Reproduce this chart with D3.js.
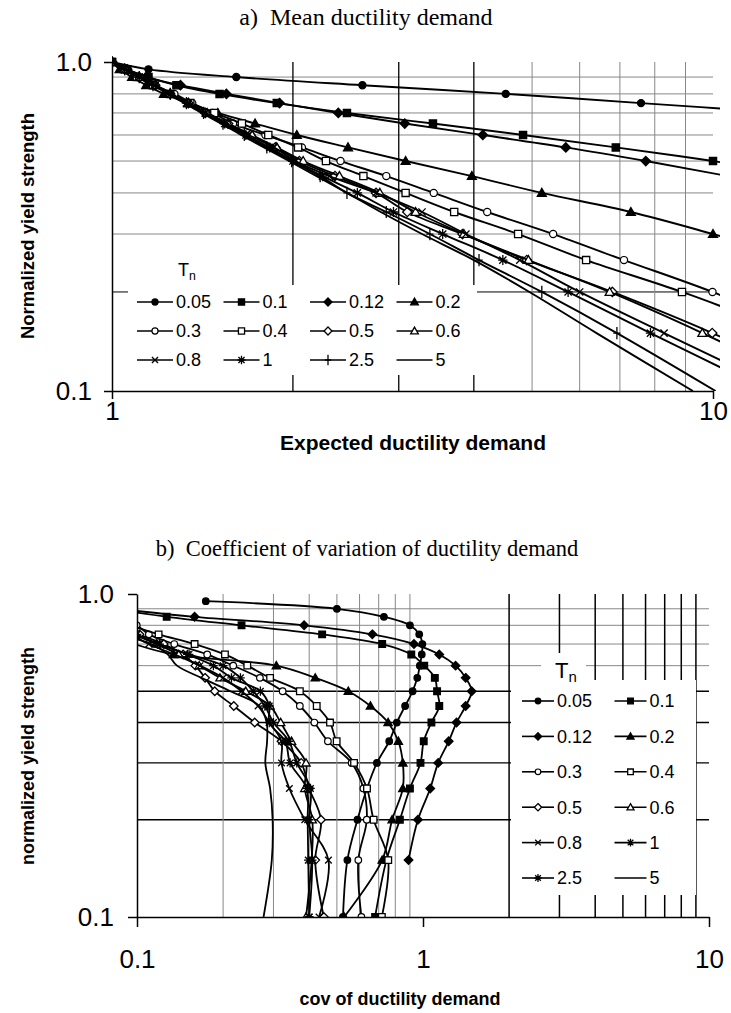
<!DOCTYPE html>
<html>
<head>
<meta charset="utf-8">
<style>
body { margin: 0; background: #fff; }
svg { display: block; font-family: "Liberation Sans", Arial, sans-serif; }
text { white-space: pre; }
</style>
</head>
<body>
<script src="https://cdn.jsdelivr.net/npm/d3@7"></script>
<script>
// strength levels (normalized yield strength) shared by every series
var strength = [1.0, 0.95, 0.9, 0.85, 0.8, 0.75, 0.7, 0.65, 0.6, 0.55, 0.5, 0.45, 0.4, 0.35, 0.3, 0.25, 0.2, 0.15, 0.1];
var periods = ["0.05", "0.1", "0.12", "0.2", "0.3", "0.4", "0.5", "0.6", "0.8", "1", "2.5", "5"];

// a) mean ductility demand, one array per period (same order as strength)
var mean005 = [1, 1.15, 1.61, 2.61, 4.52, 7.59, 13.2];
var mean01  = [1, 1.06, 1.15, 1.28, 1.51, 1.88, 2.46, 3.42, 4.83, 6.89, 10.0, 14.5];
var mean012 = [1, 1.06, 1.14, 1.30, 1.55, 1.90, 2.38, 3.07, 4.14, 5.69, 7.73, 10.6, 14.8];
var mean02  = [1, 1.03, 1.08, 1.14, 1.22, 1.34, 1.50, 1.73, 2.03, 2.47, 3.08, 3.97, 5.19, 7.30, 10.0, 14.2];
var mean03  = [1, 1.05, 1.10, 1.18, 1.27, 1.36, 1.47, 1.59, 1.80, 2.07, 2.40, 2.86, 3.43, 4.21, 5.42, 7.11, 9.98, 14.6];
var mean04  = [1, 1.05, 1.10, 1.17, 1.25, 1.35, 1.48, 1.645, 1.82, 2.04, 2.27, 2.62, 3.08, 3.71, 4.74, 6.15, 8.88, 13.5];
var mean05  = [1, 1.05, 1.11, 1.18, 1.25, 1.34, 1.43, 1.56, 1.70, 1.87, 2.05, 2.35, 2.75, 3.10, 3.83, 4.90, 6.80, 9.97, 16.0];
var mean06  = [1, 1.05, 1.11, 1.18, 1.25, 1.34, 1.44, 1.56, 1.71, 1.88, 2.08, 2.39, 2.79, 3.20, 3.85, 4.93, 6.73, 9.60, 15.2];
var mean08  = [1, 1.05, 1.11, 1.18, 1.25, 1.34, 1.43, 1.55, 1.69, 1.86, 2.02, 2.30, 2.75, 3.28, 3.88, 4.77, 6.00, 8.29, 13.2];
var mean1   = [1, 1.05, 1.11, 1.18, 1.25, 1.33, 1.43, 1.54, 1.67, 1.83, 2.00, 2.24, 2.56, 2.94, 3.55, 4.47, 5.74, 7.87, 12.4];
var mean25  = [1, 1.05, 1.11, 1.17, 1.25, 1.33, 1.42, 1.53, 1.66, 1.81, 1.99, 2.22, 2.46, 2.86, 3.38, 4.08, 5.19, 6.92, 10.1];
var mean5   = [1, 1.05, 1.11, 1.17, 1.24, 1.32, 1.41, 1.52, 1.64, 1.79, 1.97, 2.19, 2.46, 2.80, 3.28, 4.00, 4.95, 6.40, 9.26];

// b) coefficient of variation of ductility demand
var cov005 = [null, 0.174, 0.50, 0.73, 0.90, 0.97, 0.995, 0.99, 0.975, 0.955, 0.92, 0.866, 0.81, 0.762, 0.69, 0.637, 0.59, 0.544, 0.525];
var cov01  = [null, 0.05, 0.08, 0.127, 0.232, 0.444, 0.72, 0.91, 1.01, 1.10, 1.12, 1.14, 1.07, 1.006, 0.98, 0.90, 0.83, 0.745, 0.68];
var cov012 = [null, 0.05, 0.085, 0.159, 0.384, 0.665, 0.93, 1.14, 1.30, 1.41, 1.48, 1.41, 1.31, 1.23, 1.13, 1.06, 0.96, 0.89, null];
var cov02  = [null, null, null, null, 0.065, 0.08, 0.098, 0.134, 0.307, 0.42, 0.548, 0.655, 0.755, 0.82, 0.85, 0.85, 0.78, 0.72, 0.53];
var cov03  = [null, null, null, 0.085, 0.0998, 0.11, 0.135, 0.176, 0.217, 0.269, 0.323, 0.371, 0.417, 0.465, 0.563, 0.619, 0.636, 0.594, 0.609];
var cov04  = [null, null, null, 0.08, 0.095, 0.119, 0.159, 0.203, 0.243, 0.292, 0.371, 0.425, 0.473, 0.499, 0.574, 0.637, 0.672, 0.756, 0.718];
var cov05  = [null, null, null, 0.075, 0.092, 0.102, 0.124, 0.145, 0.160, 0.173, 0.187, 0.218, 0.258, 0.32, 0.375, 0.40, 0.44, 0.42, 0.45];
var cov06  = [null, null, null, 0.07, 0.085, 0.098, 0.117, 0.14, 0.165, 0.195, 0.24, 0.292, 0.318, 0.347, 0.39, 0.386, 0.41, 0.408, 0.39];
var cov08  = [null, null, null, 0.07, 0.083, 0.095, 0.11, 0.135, 0.166, 0.20, 0.232, 0.265, 0.29, 0.32, 0.32, 0.341, 0.386, 0.467, 0.433];
var cov1   = [null, null, null, 0.072, 0.086, 0.10, 0.118, 0.15, 0.185, 0.214, 0.27, 0.29, 0.29, 0.33, 0.343, 0.392, 0.395, 0.397, 0.40];
var cov25  = [null, null, null, 0.07, 0.084, 0.097, 0.12, 0.152, 0.2, 0.23, 0.255, 0.28, 0.30, 0.34, 0.362, 0.404, 0.40, 0.41, 0.40];
var cov5   = [null, null, null, 0.06, 0.075, 0.088, 0.112, 0.128, 0.138, 0.168, 0.212, 0.268, 0.284, 0.285, 0.281, 0.292, 0.298, 0.296, 0.277];

var meanSeries = [mean005, mean01, mean012, mean02, mean03, mean04, mean05, mean06, mean08, mean1, mean25, mean5];
var covSeries  = [cov005, cov01, cov012, cov02, cov03, cov04, cov05, cov06, cov08, cov1, cov25, cov5];

// marker styles per period
var markersA = ["dot", "square", "diamond", "triangle", "ocircle", "osquare", "odiamond", "otriangle", "x", "star", "plus", "none"];
var markersB = ["dot", "square", "diamond", "triangle", "ocircle", "osquare", "odiamond", "otriangle", "x", "star", "star", "none"];

var svg = d3.select("body").append("svg")
    .attr("width", 731)
    .attr("height", 1013);

function markerPath(type, s) {
  var p = "";
  if (type == "square" || type == "osquare") p = "M" + (-s) + "," + (-s) + "h" + 2 * s + "v" + 2 * s + "h" + (-2 * s) + "Z";
  if (type == "diamond" || type == "odiamond") { var d = s * 1.3; p = "M0," + (-d) + "L" + d + ",0L0," + d + "L" + (-d) + ",0Z"; }
  if (type == "triangle" || type == "otriangle") { var t = s * 1.25; p = "M0," + (-t) + "L" + t + "," + (t * 0.75) + "L" + (-t) + "," + (t * 0.75) + "Z"; }
  if (type == "x") p = "M" + (-s) + "," + (-s) + "L" + s + "," + s + "M" + (-s) + "," + s + "L" + s + "," + (-s);
  if (type == "plus") p = "M0," + (-s * 1.7) + "V" + (s * 1.7) + "M" + (-s) + ",0H" + s;
  if (type == "star") p = "M" + (-s) + "," + (-s) + "L" + s + "," + s + "M" + (-s) + "," + s + "L" + s + "," + (-s) + "M0," + (-s * 1.4) + "V" + (s * 1.4) + "M" + (-s * 1.3) + ",0H" + (s * 1.3);
  return p;
}

function drawMarker(g, type, cx, cy, s) {
  if (type == "none") return;
  var filled = ["dot", "square", "diamond", "triangle"].indexOf(type) >= 0;
  if (type == "dot" || type == "ocircle") {
    g.append("circle").attr("cx", cx).attr("cy", cy).attr("r", s)
      .attr("fill", filled ? "#000" : "#fff").attr("stroke", "#000").attr("stroke-width", 1.2);
  } else {
    g.append("path").attr("d", markerPath(type, s))
      .attr("transform", "translate(" + cx + "," + cy + ")")
      .attr("fill", filled ? "#000" : (type == "x" || type == "plus" || type == "star" ? "none" : "#fff"))
      .attr("stroke", "#000").attr("stroke-width", 1.3);
  }
}

function points(vals) {
  var pts = [];
  vals.forEach(function(v, i) { if (v != null) pts.push([v, strength[i]]); });
  return pts;
}

function drawPanel(cfg) {
  var x = cfg.x, y = cfg.y;
  var x0 = x.range()[0], x1 = x.range()[1], y0 = y.range()[1], y1 = y.range()[0];
  var g = svg.append("g");

  // grid
  cfg.gridY.forEach(function(v) {
    g.append("line").attr("x1", x0).attr("x2", x1).attr("y1", y(v)).attr("y2", y(v))
      .attr("stroke", cfg.gridYColor(v)).attr("stroke-width", cfg.gridYWidth(v));
  });
  cfg.gridX.forEach(function(v) {
    g.append("line").attr("x1", x(v)).attr("x2", x(v)).attr("y1", y0).attr("y2", y1)
      .attr("stroke", cfg.gridXColor(v)).attr("stroke-width", cfg.gridXWidth(v));
  });

  // series
  var clipId = "clip" + cfg.id;
  svg.append("clipPath").attr("id", clipId).append("rect")
    .attr("x", x0).attr("y", y0 - 6).attr("width", x1 - x0 + cfg.clipExtra).attr("height", y1 - y0 + 6);
  var sg = g.append("g").attr("clip-path", "url(#" + clipId + ")");
  var line = d3.line()
    .x(function(d) { return x(d[0]); })
    .y(function(d) { return y(d[1]); })
    .curve(d3.curveCatmullRom.alpha(0.5));
  cfg.series.forEach(function(vals, k) {
    var pts = points(vals);
    sg.append("path").attr("d", line(pts)).attr("fill", "none")
      .attr("stroke", "#000").attr("stroke-width", cfg.lineWidth);
    pts.forEach(function(p) {
      if (x(p[0]) > x1 + 1 || x(p[0]) < x0 - 1) return;
      drawMarker(sg, cfg.markers[k], x(p[0]), y(p[1]), cfg.markerSize);
    });
  });

  // axes
  g.append("g").attr("transform", "translate(" + x0 + ",0)")
    .call(d3.axisLeft(y).tickValues([0.1, 1]).tickFormat(d3.format(".1f")).tickSize(cfg.tickY).tickPadding(cfg.padY).tickSizeOuter(0))
    .call(styleAxis);
  g.append("g").attr("transform", "translate(0," + y1 + ")")
    .call(d3.axisBottom(x).tickValues(cfg.xTicks).tickFormat(cfg.xFormat).tickSize(cfg.tickX).tickPadding(cfg.padX).tickSizeOuter(0))
    .call(styleAxis);

  // legend
  var L = cfg.legend;
  g.append("rect").attr("x", L.box[0]).attr("y", L.box[1]).attr("width", L.box[2]).attr("height", L.box[3]).attr("fill", "#fff");
  if (L.titleBox) g.append("rect").attr("x", L.titleBox[0]).attr("y", L.titleBox[1]).attr("width", L.titleBox[2]).attr("height", L.titleBox[3]).attr("fill", "#fff");
  var tn = g.append("text").attr("x", L.title[0]).attr("y", L.title[1]).attr("font-size", L.titleSize);
  tn.append("tspan").text("T");
  tn.append("tspan").attr("font-size", L.titleSize * 0.68).attr("dy", 4).text("n");
  periods.forEach(function(p, i) {
    var c = i % L.cols, r = Math.floor(i / L.cols);
    var lx = L.x + c * L.dx, ly = L.y + r * L.dy;
    g.append("line").attr("x1", lx).attr("x2", lx + L.len).attr("y1", ly).attr("y2", ly)
      .attr("stroke", "#000").attr("stroke-width", 1.6);
    drawMarker(g, cfg.markers[i], lx + L.len / 2, ly, cfg.markerSize * 0.85);
    g.append("text").attr("x", lx + L.len + 3).attr("y", ly).attr("dy", "0.36em")
      .attr("font-size", L.fontSize).text(p);
  });

  // axis titles
  g.append("text").attr("x", cfg.xTitle[0]).attr("y", cfg.xTitle[1]).attr("text-anchor", "middle")
    .attr("font-weight", "bold").attr("font-size", cfg.xTitleSize).text(cfg.xLabel);
  g.append("text").attr("transform", "translate(" + cfg.yTitle[0] + "," + cfg.yTitle[1] + ") rotate(-90)")
    .attr("text-anchor", "middle").attr("font-weight", "bold").attr("font-size", cfg.yTitleSize).text(cfg.yLabel);
  g.append("text").attr("x", cfg.head[0]).attr("y", cfg.head[1]).attr("text-anchor", "middle")
    .attr("font-family", "'Liberation Serif', 'Times New Roman', serif").attr("font-size", cfg.headSize).text(cfg.heading);
}

function styleAxis(sel) {
  sel.selectAll("path.domain").attr("stroke", "#000").attr("stroke-width", 1.5);
  sel.selectAll(".tick line").attr("stroke", "#000").attr("stroke-width", 1.5);
  sel.selectAll(".tick text").attr("font-size", 26).attr("fill", "#000")
    .attr("font-family", "'Liberation Sans', Arial, sans-serif");
}

drawPanel({
  id: "a",
  x: d3.scaleLog().domain([1, 10]).range([112, 713]),
  y: d3.scaleLog().domain([0.1, 1]).range([391, 62]),
  gridY: [0.9, 0.8, 0.7, 0.6, 0.5, 0.4, 0.3, 0.2],
  gridYColor: function(v) { return v == 0.2 ? "#000" : "#888"; },
  gridYWidth: function(v) { return 1; },
  gridX: [2, 3, 4, 5, 6, 7, 8, 9],
  gridXColor: function(v) { return v <= 4 ? "#000" : "#888"; },
  gridXWidth: function(v) { return v <= 4 ? 1.3 : 1; },
  clipExtra: 7,
  series: meanSeries,
  markers: markersA,
  markerSize: 3.6,
  lineWidth: 1.9,
  tickY: 8, padY: 12, tickX: 8, padX: 3,
  xTicks: [1, 10], xFormat: d3.format("d"),
  legend: { box: [128, 285, 349, 90], title: [178, 276], titleSize: 18,
            cols: 4, x: 137, y: 302, dx: 86.5, dy: 29, len: 36, fontSize: 18 },
  xTitle: [413, 450], yTitle: [34, 226], xTitleSize: 21, yTitleSize: 18.5,
  xLabel: "Expected ductility demand", yLabel: "Normalized yield strength",
  head: [366, 25], headSize: 24, heading: "a)  Mean ductility demand"
});

drawPanel({
  id: "b",
  x: d3.scaleLog().domain([0.1, 10]).range([137, 709]),
  y: d3.scaleLog().domain([0.1, 1]).range([917, 594]),
  gridY: [0.9, 0.8, 0.7, 0.6, 0.5, 0.4, 0.3, 0.2],
  gridYColor: function(v) { return v <= 0.5 ? "#000" : "#888"; },
  gridYWidth: function(v) { return v <= 0.5 ? 1.4 : 1; },
  gridX: [0.2, 0.3, 0.4, 0.5, 0.6, 0.7, 0.8, 0.9, 2, 3, 4, 5, 6, 7, 8, 9],
  gridXColor: function(v) { return v > 1 ? "#000" : "#888"; },
  gridXWidth: function(v) { return v > 1 ? 1.5 : 1; },
  clipExtra: 0,
  series: covSeries,
  markers: markersB,
  markerSize: 3.3,
  lineWidth: 1.8,
  tickY: 9, padY: 14, tickX: 10, padX: 23,
  xTicks: [0.1, 1, 10], xFormat: function(d) { return d < 1 ? "0.1" : String(d); },
  legend: { box: [511, 680, 185, 215], titleBox: [541, 653, 45, 27], title: [555, 678], titleSize: 22,
            cols: 2, x: 522, y: 701, dx: 92.5, dy: 35.4, len: 32, fontSize: 18 },
  xTitle: [400, 1005], yTitle: [34, 756], xTitleSize: 18, yTitleSize: 18,
  xLabel: "cov of ductility demand", yLabel: "normalized yield strength",
  head: [367, 556], headSize: 22.5, heading: "b)  Coefficient of variation of ductility demand"
});
</script>
</body>
</html>
